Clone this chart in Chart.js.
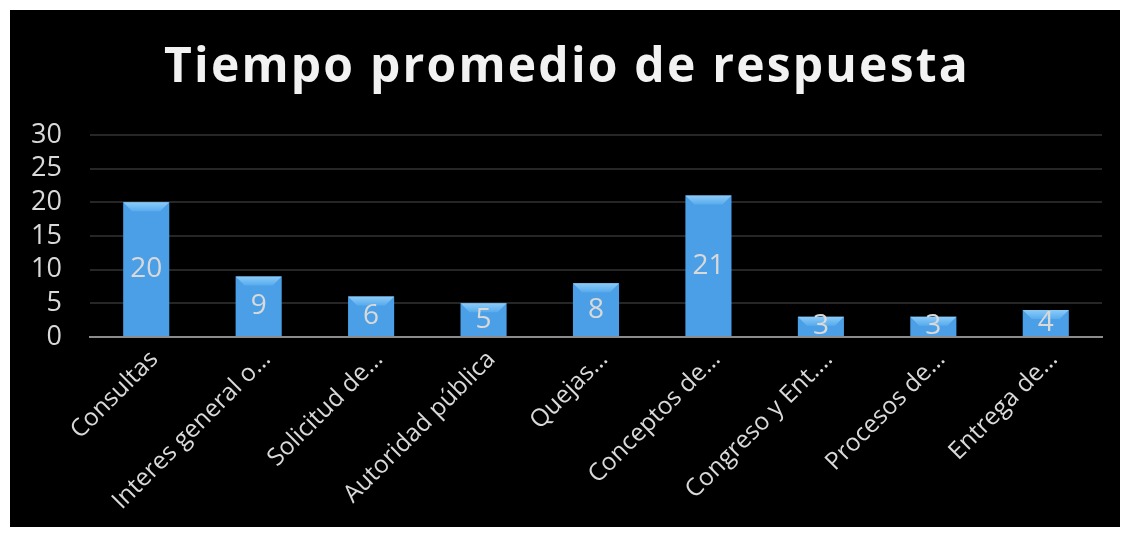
<!DOCTYPE html>
<html>
<head>
<meta charset="utf-8">
<script src="https://cdn.jsdelivr.net/npm/chart.js@4.4.1/dist/chart.umd.min.js"></script>
<style>
  body { margin: 0; background: #fff; }
  #marco { position: absolute; left: 10px; top: 10px; width: 1110px; height: 517px; background: #000; }
</style>
</head>
<body>
<div id="marco"><canvas id="grafico" width="1110" height="517"></canvas></div>
<script>
// datos del grafico
const titulo = 'Tiempo promedio de respuesta';
const categorias = ['Consultas', 'Interes general o…', 'Solicitud de…', 'Autoridad pública', 'Quejas…',
    'Conceptos de…', 'Congreso y Ent.…', 'Procesos de…', 'Entrega de…'];
const tiempos = [20, 9, 6, 5, 8, 21, 3, 3, 4];
const ticksY = [0, 5, 10, 15, 20, 25, 30];

const fuente = "'Open Sans', sans-serif";

// degradado horizontal de las barras
function colorBarra(ctx) {
    const el = ctx.element;
    if (!el || el.x === undefined) return '#4a9fe6';
    const c = ctx.chart.ctx;
    const w = el.width || 46;
    const g = c.createLinearGradient(el.x - w / 2, 0, el.x + w / 2, 0);
    g.addColorStop(0, '#2a76bd');
    g.addColorStop(0.12, '#4597df');
    g.addColorStop(0.5, '#4fa4ec');
    g.addColorStop(0.88, '#4597df');
    g.addColorStop(1, '#2a76bd');
    return g;
}

// titulo con espaciado entre letras
const tituloEspaciado = {
    id: 'tituloEspaciado',
    afterDraw(chart) {
        const c = chart.ctx;
        c.save();
        c.fillStyle = '#f2f2f2';
        c.font = 'bold 48px ' + fuente;
        c.letterSpacing = '2.2px';
        c.textAlign = 'center';
        c.textBaseline = 'middle';
        c.fillText(titulo, chart.width / 2 + 2, 58);
        c.restore();
    }
};

// bisel arriba de cada barra + etiqueta del valor
const biselYEtiquetas = {
    id: 'biselYEtiquetas',
    afterDatasetsDraw(chart) {
        const c = chart.ctx;
        const meta = chart.getDatasetMeta(0);
        meta.data.forEach((bar, i) => {
            const w = bar.width;
            const left = bar.x - w / 2, right = bar.x + w / 2;
            const h = Math.min(9, (bar.base - bar.y) / 2);
            c.save();
            const g = c.createLinearGradient(0, bar.y, 0, bar.y + h);
            g.addColorStop(0, '#8ccbf7');
            g.addColorStop(1, '#57abee');
            c.fillStyle = g;
            c.beginPath();
            c.moveTo(left, bar.y);
            c.lineTo(right, bar.y);
            c.lineTo(right - h, bar.y + h);
            c.lineTo(left + h, bar.y + h);
            c.closePath();
            c.fill();
            c.restore();

            c.save();
            c.fillStyle = '#d9d9d9';
            c.font = '28px ' + fuente;
            c.textAlign = 'center';
            c.textBaseline = 'middle';
            c.fillText(String(tiempos[i]), bar.x, (bar.y + bar.base) / 2);
            c.restore();
        });
    }
};

new Chart(document.getElementById('grafico'), {
    type: 'bar',
    data: {
        labels: categorias,
        datasets: [{
            data: tiempos,
            backgroundColor: colorBarra,
            borderWidth: 0,
            categoryPercentage: 0.82,
            barPercentage: 0.5
        }]
    },
    options: {
        responsive: false,
        animation: false,
        layout: { padding: { left: 0, right: 18, top: 125, bottom: 0 } },
        plugins: {
            legend: { display: false },
            tooltip: { enabled: false },
            title: { display: false }
        },
        scales: {
            x: {
                grid: { display: false, drawTicks: false },
                border: { color: '#8c8c8c', width: 2 },
                ticks: {
                    color: '#d9d9d9',
                    font: { family: fuente, size: 24.5 },
                    maxRotation: 45,
                    minRotation: 45,
                    autoSkip: false,
                    padding: 8,
                    labelOffset: 8
                },
                afterFit(scale) { scale.height = 190; }
            },
            y: {
                min: 0,
                max: 30,
                afterBuildTicks(scale) { scale.ticks = ticksY.map(v => ({ value: v })); },
                grid: { color: '#262626', lineWidth: 2, drawTicks: false },
                border: { display: false },
                ticks: {
                    color: '#d9d9d9',
                    font: { family: fuente, size: 27 },
                    padding: 28,
                    autoSkip: false
                },
                afterFit(scale) { scale.width = 80; }
            }
        }
    },
    plugins: [biselYEtiquetas, tituloEspaciado]
});
</script>
</body>
</html>
